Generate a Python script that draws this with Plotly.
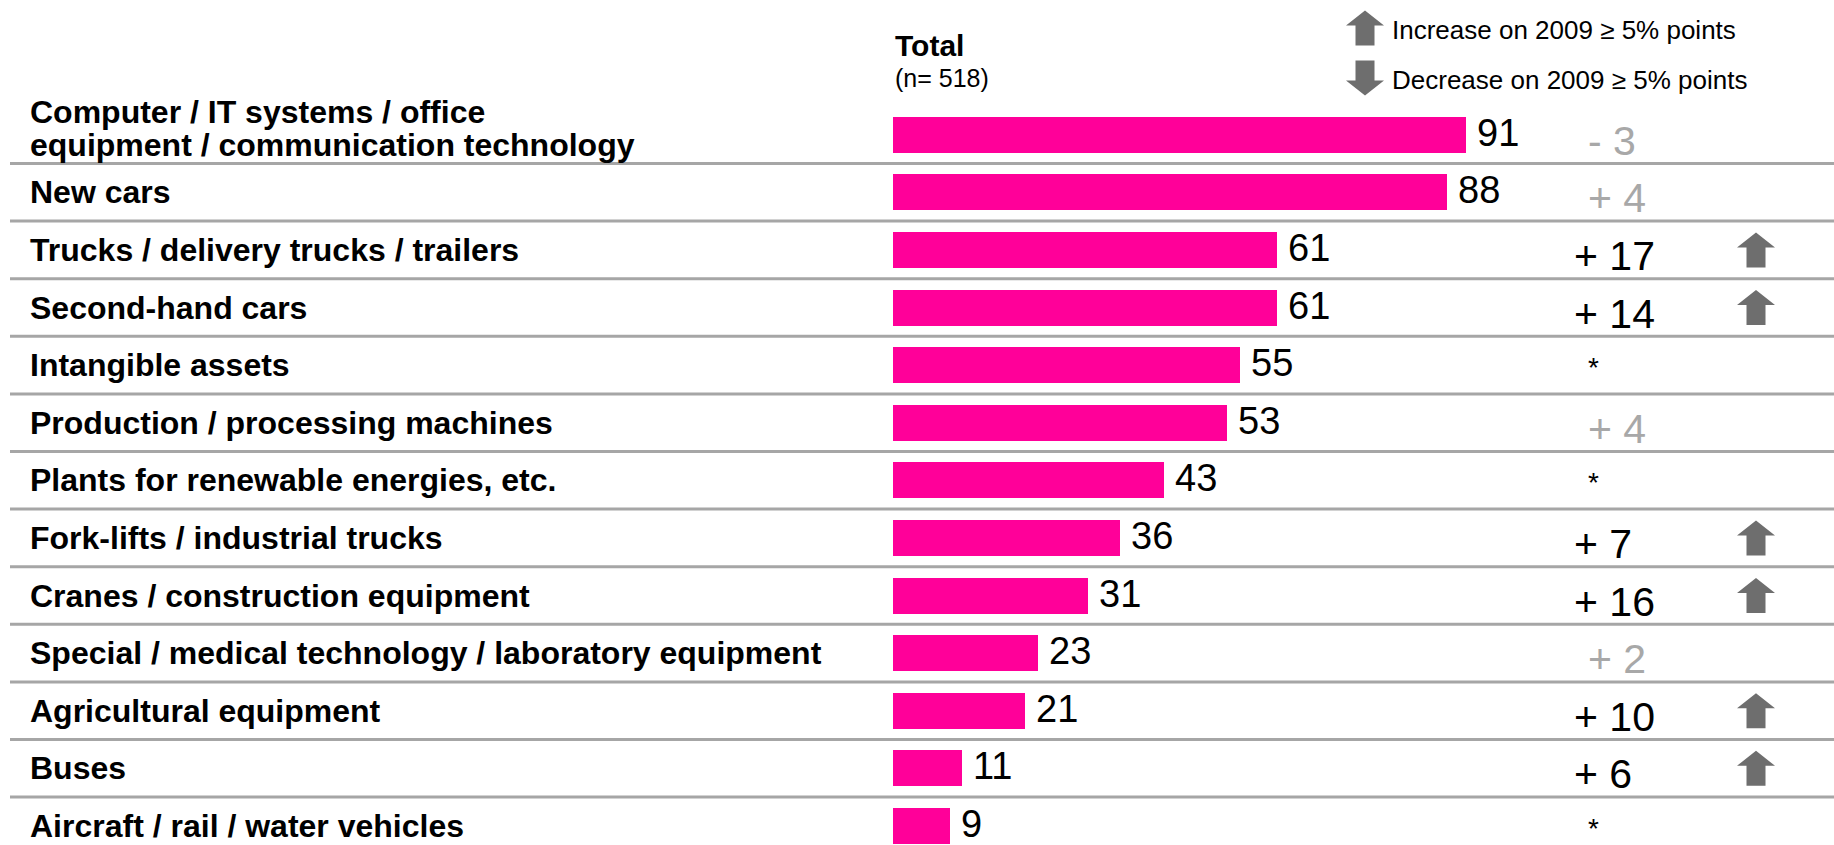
import plotly.graph_objects as go

# Asset categories, share of companies (%) and change on 2009 (percentage points)
categories = [
    "Computer / IT systems / office<br>equipment / communication technology",
    "New cars",
    "Trucks / delivery trucks / trailers",
    "Second-hand cars",
    "Intangible assets",
    "Production / processing machines",
    "Plants for renewable energies, etc.",
    "Fork-lifts / industrial trucks",
    "Cranes / construction equipment",
    "Special / medical technology / laboratory equipment",
    "Agricultural equipment",
    "Buses",
    "Aircraft / rail / water vehicles",
]
values = [91, 88, 61, 61, 55, 53, 43, 36, 31, 23, 21, 11, 9]
change_vs_2009 = [-3, 4, 17, 14, None, 4, None, 7, 16, 2, 10, 6, None]

header_title = "Total"
header_sub = "(n= 518)"
legend_up = "Increase on 2009 \u2265 5% points"
legend_down = "Decrease on 2009 \u2265 5% points"

W, H = 1834, 845
FONT = "Liberation Sans, Arial, sans-serif"
PINK = "#ff0099"
ARROW_GREY = "#6e6e6e"
RULE_GREY = "#a6a6a6"
MUTED = "#a8a8a8"
THRESHOLD = 5

rows = list(range(len(categories)))

fig = go.Figure()
fig.add_trace(go.Bar(
    x=values, y=rows, orientation="h", width=0.625,
    marker=dict(color=PINK, line=dict(width=0)),
    hoverinfo="skip",
))

annotations = []
shapes = []


def arrow_path(up=True):
    # block arrow in pixels, centred on its anchor (y positive = up)
    pts = [(0, 17.5), (19, 2.5), (9.5, 2.5), (9.5, -17.5),
           (-9.5, -17.5), (-9.5, 2.5), (-19, 2.5)]
    if not up:
        pts = [(x, -y) for x, y in pts]
    return "M" + " L".join(f"{x},{y}" for x, y in pts) + " Z"


# row labels on the left
for i, label in enumerate(categories):
    lines = label.split("<br>")
    k = len(lines)
    for j, line in enumerate(lines):
        shift = (6.5 + 16.5 * (k - 1) - 33 * j) if k > 1 else 0
        annotations.append(dict(
            text=f"<b>{line}</b>", xref="paper", x=28 / W, xanchor="left",
            yref="y", y=i, yanchor="middle", yshift=shift, showarrow=False,
            font=dict(family=FONT, size=32, color="#000000"),
        ))

# value labels at the end of each bar
for i, v in enumerate(values):
    annotations.append(dict(
        text=str(v), xref="x", x=v, xanchor="left", xshift=9,
        yref="y", y=i, yanchor="middle", yshift=2, showarrow=False,
        font=dict(family=FONT, size=38, color="#000000"),
    ))

# change column ("*" = no comparison value) and trend arrows
for i, c in enumerate(change_vs_2009):
    if c is None:
        annotations.append(dict(
            text="*", xref="paper", x=1572 / W, xanchor="left", xshift=14,
            yref="y", y=i, yanchor="middle", yshift=-2.5, showarrow=False,
            font=dict(family=FONT, size=28, color="#000000"),
        ))
        continue
    txt = ("+ " if c >= 0 else "- ") + str(abs(c))
    notable = abs(c) >= THRESHOLD
    annotations.append(dict(
        text=txt, xref="paper", x=1572 / W, xanchor="left",
        xshift=0 if notable else 14,
        yref="y", y=i, yanchor="middle", yshift=-6, showarrow=False,
        font=dict(family=FONT, size=41,
                  color="#000000" if notable else MUTED),
    ))
    if notable:
        shapes.append(dict(
            type="path", xref="paper", yref="y",
            xsizemode="pixel", ysizemode="pixel",
            xanchor=1756 / W, yanchor=i,
            path=arrow_path(c > 0),
            fillcolor=ARROW_GREY, line=dict(width=0),
        ))

# horizontal rules between rows
for i in rows[:-1]:
    shapes.append(dict(
        type="line", xref="paper", x0=10 / W, x1=1,
        yref="y", y0=i + 0.5, y1=i + 0.5,
        line=dict(color=RULE_GREY, width=3), layer="below",
    ))

# column header
annotations.append(dict(
    text=f"<b>{header_title}</b>", xref="paper", x=893 / W, xanchor="left",
    yref="paper", y=1 - 45 / H, yanchor="middle", showarrow=False,
    font=dict(family=FONT, size=30, color="#000000"),
))
annotations.append(dict(
    text=header_sub, xref="paper", x=893 / W, xanchor="left",
    yref="paper", y=1 - 78 / H, yanchor="middle", showarrow=False,
    font=dict(family=FONT, size=25, color="#000000"),
))

# legend for the arrows
for ypix, up, txt in [(28, True, legend_up), (78, False, legend_down)]:
    shapes.append(dict(
        type="path", xref="paper", yref="paper",
        xsizemode="pixel", ysizemode="pixel",
        xanchor=1365 / W, yanchor=1 - ypix / H,
        path=arrow_path(up), fillcolor=ARROW_GREY, line=dict(width=0),
    ))
    annotations.append(dict(
        text=txt, xref="paper", x=1390 / W, xanchor="left",
        yref="paper", y=1 - (ypix + 2) / H, yanchor="middle", showarrow=False,
        font=dict(family=FONT, size=26, color="#000000"),
    ))

px_per_unit = 6.3
x_left = 893
x_span = (W - x_left) / px_per_unit
pitch = 57.6
row0 = 134.7
y_top = -row0 / pitch
y_bottom = y_top + H / pitch

fig.update_layout(
    width=W, height=H,
    margin=dict(l=0, r=0, t=0, b=0),
    paper_bgcolor="white", plot_bgcolor="white",
    showlegend=False,
    bargap=0,
    xaxis=dict(domain=[x_left / W, 1], range=[0, x_span], visible=False,
               fixedrange=True),
    yaxis=dict(range=[y_bottom, y_top], visible=False, fixedrange=True),
    annotations=annotations,
    shapes=shapes,
)

fig.write_html("out.html", config={"displayModeBar": False})
